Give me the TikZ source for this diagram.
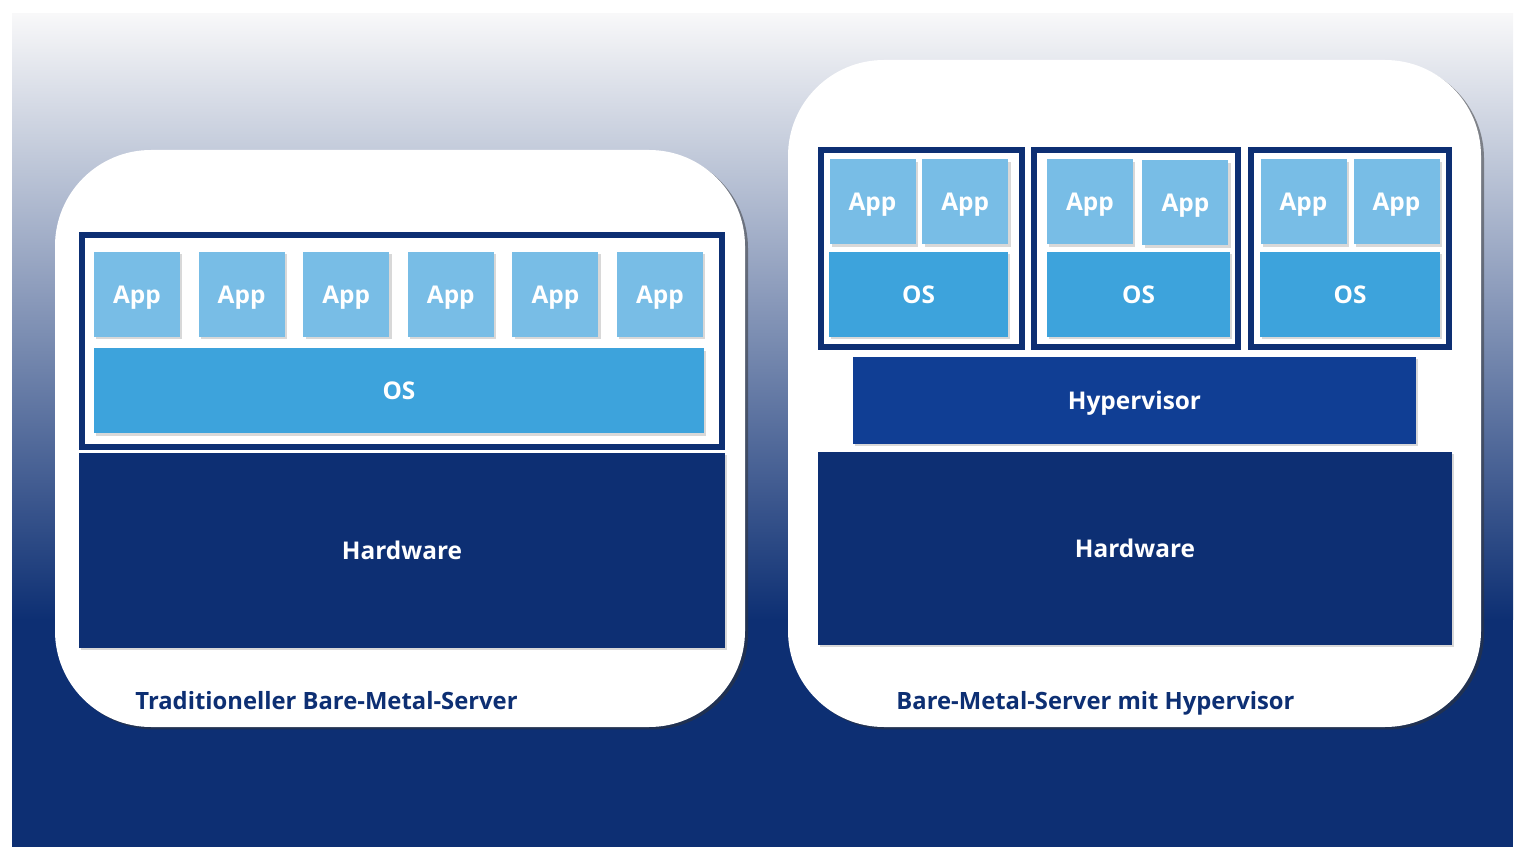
\documentclass[tikz,border=0pt]{standalone}
\usepackage{fontspec}
\setmainfont{Open Sans}
\usepackage{tikz}
\usetikzlibrary{positioning, shadows}
\definecolor{navy}{HTML}{0D2F73}
\definecolor{appblue}{HTML}{78BDE6}
\definecolor{osblue}{HTML}{3DA3DC}
\definecolor{hvblue}{HTML}{103E94}
\definecolor{topgray}{HTML}{F8F8F9}
\definecolor{midgray}{HTML}{96A2BF}
\newcommand{\boxfont}{\bfseries\fontsize{12.2}{15}\selectfont}
\newcommand{\lbfont}{\bfseries\fontsize{11.9}{14}\selectfont}
\tikzstyle{pn}=[%
      rectangle, rounded corners=48pt, fill=white, draw=none, inner sep=0pt,
      drop shadow={shadow xshift=1.5pt, shadow yshift=-1.2pt, opacity=0.5, fill=black!80}
]
\tikzstyle{vm}=[%
      rectangle, draw=navy, line width=3pt, fill=white, inner sep=0pt,
      drop shadow={shadow xshift=1.2pt, shadow yshift=-1.2pt, opacity=0.3}
]
\tikzstyle{app}=[%
      rectangle, fill=appblue, text=white, font=\boxfont, inner sep=0pt, outer sep=0pt,
      minimum width=43pt, minimum height=42.5pt, text height=8.7pt, text depth=0pt,
      drop shadow={shadow xshift=1.2pt, shadow yshift=-1.2pt, opacity=0.3}
]
\tikzstyle{os}=[%
      rectangle, fill=osblue, text=white, font=\boxfont, inner sep=0pt,
      minimum height=42.5pt, text height=8.7pt, text depth=0pt,
      drop shadow={shadow xshift=1.2pt, shadow yshift=-1.2pt, opacity=0.3}
]
\tikzstyle{hv}=[%
      rectangle, fill=hvblue, text=white, font=\boxfont, inner sep=0pt,
      text height=8.7pt, text depth=0pt,
      drop shadow={shadow xshift=1.2pt, shadow yshift=-1.2pt, opacity=0.3}
]
\tikzstyle{hw}=[%
      rectangle, fill=navy, text=white, font=\boxfont, inner sep=0pt,
      text height=8.7pt, text depth=0pt,
      drop shadow={shadow xshift=1.2pt, shadow yshift=-1.2pt, opacity=0.3}
]
\tikzstyle{lb}=[%
      text=navy, font=\lbfont, inner sep=0pt, anchor=base west
]
\begin{document}
\begin{tikzpicture}[x=0.5pt, y=-0.5pt]
    \useasboundingbox (0,0) rectangle (1526,860);
    % background
    \fill[navy] (12,14) rectangle (1513,847);
    \shade[top color=topgray, middle color=midgray, bottom color=navy] (12,14) rectangle (1513,620);

    % traditional server
    \node[pn, minimum width=345pt, minimum height=288.5pt] (pl) at (400,438.5) {};
    \node[vm, minimum width=320pt, minimum height=106pt]   (vl) at (402,341)   {};
    \node[app]               (l1) at (137,294.5)      {App};
    \node[app]               (l2) [right = 9.3pt of l1] {App};
    \node[app]               (l3) [right = 9.3pt of l2] {App};
    \node[app]               (l4) [right = 9.3pt of l3] {App};
    \node[app]               (l5) [right = 9.3pt of l4] {App};
    \node[app]               (l6) [right = 9.3pt of l5] {App};
    \node[os, minimum width=305pt] (ol) at (399,391) {OS};
    \node[hw, minimum width=323pt, minimum height=97.5pt] (hl) at (402,550.5) {Hardware};
    \node[lb] (tl) at (135,709) {Traditioneller Bare-Metal-Server};

    % server with hypervisor
    \node[pn, minimum width=346.5pt, minimum height=333.5pt] (pr) at (1134.5,393.5) {};
    \node[vm, minimum width=100.5pt, minimum height=98.5pt] (v1) at (921.5,248.5) {};
    \node[vm, minimum width=102pt, minimum height=98.5pt]   (v2) at (1136,248.5)  {};
    \node[vm, minimum width=99pt, minimum height=98.5pt]    (v3) at (1350,248.5)  {};
    \node[app]               (r1) at (872.5,202)       {App};
    \node[app]               (r2) [right = 3.3pt of r1] {App};
    \node[app]               (r3) at (1090,202)        {App};
    \node[app]               (r4) [right = 4.7pt of r3, yshift=-0.5pt] {App};
    \node[app]               (r5) at (1303.5,202)      {App};
    \node[app]               (r6) [right = 3.5pt of r5] {App};
    \node[os, minimum width=89.5pt] (o1) at (918.5,294.5)  {OS};
    \node[os, minimum width=91.5pt] (o2) at (1138.5,294.5) {OS};
    \node[os, minimum width=90pt]   (o3) at (1350,294.5)   {OS};
    \node[hv, minimum width=281.5pt, minimum height=43.5pt] (hy) at (1134.5,400.5) {Hypervisor};
    \node[hw, minimum width=317pt, minimum height=96.5pt]   (hr) at (1135,548.5)   {Hardware};
    \node[lb] (tr) at (896,709) {Bare-Metal-Server mit Hypervisor};
\end{tikzpicture}
\end{document}
